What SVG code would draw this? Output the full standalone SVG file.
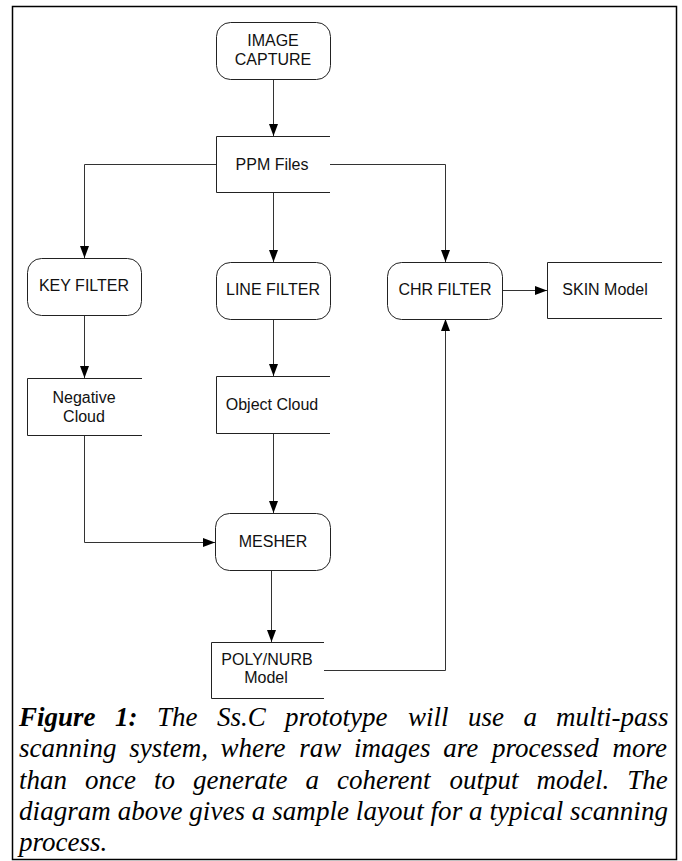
<svg xmlns="http://www.w3.org/2000/svg" width="682" height="861" viewBox="0 0 682 861">
<style>
.box{fill:#fff;stroke:#222;stroke-width:1}
.open{fill:none;stroke:#222;stroke-width:1}
.lbl{font-family:"Liberation Sans",Arial,sans-serif;font-size:16px;fill:#111;text-anchor:middle}
.conn path{fill:none;stroke:#333;stroke-width:1;marker-end:url(#arr)}
.cap{font-family:"Liberation Serif","Times New Roman",serif;font-size:27px;font-style:italic;fill:#000}
.capb{font-weight:bold}
</style>
<defs>
<marker id="arr" markerUnits="userSpaceOnUse" markerWidth="12" markerHeight="9" refX="12" refY="4.5" orient="auto">
<path d="M0,0 L12,4.5 L0,9 z" fill="#000"/>
</marker>
</defs>
<rect x="12.5" y="6.5" width="664" height="853" fill="#fff" stroke="#000" stroke-width="1.5"/>
<g id="connectors" class="conn">
<path d="M273.5,79 V136"/>
<path d="M216,164.5 H84.5 V258"/>
<path d="M273.5,193 V262"/>
<path d="M330,164.5 H445.5 V262"/>
<path d="M84.5,315 V378"/>
<path d="M273.5,319 V376"/>
<path d="M502,290.5 H547"/>
<path d="M84.5,435 V542.5 H215"/>
<path d="M273.5,433 V513"/>
<path d="M271.5,570 V642"/>
<path d="M324,670.5 H445.5 V319"/>
</g>
<g id="image-capture">
<rect class="box" x="216.5" y="22.5" width="114" height="57" rx="14"/>
<text class="lbl" x="273" y="46">IMAGE</text>
<text class="lbl" x="273" y="65">CAPTURE</text>
</g>
<g id="ppm-files">
<path class="open" d="M330,136.5 H216.5 V192.5 H330"/>
<text class="lbl" x="272" y="169.5">PPM Files</text>
</g>
<g id="key-filter">
<rect class="box" x="27.5" y="258.5" width="114" height="57" rx="14"/>
<text class="lbl" x="84" y="291">KEY FILTER</text>
</g>
<g id="line-filter">
<rect class="box" x="216.5" y="262.5" width="114" height="57" rx="14"/>
<text class="lbl" x="273" y="295">LINE FILTER</text>
</g>
<g id="chr-filter">
<rect class="box" x="387.5" y="262.5" width="115" height="57" rx="14"/>
<text class="lbl" x="445" y="295">CHR FILTER</text>
</g>
<g id="skin-model">
<path class="open" d="M662,262.5 H547.5 V318.5 H662"/>
<text class="lbl" x="605" y="295">SKIN Model</text>
</g>
<g id="negative-cloud">
<path class="open" d="M142,378.5 H27.5 V435.5 H142"/>
<text class="lbl" x="84" y="403">Negative</text>
<text class="lbl" x="84" y="422">Cloud</text>
</g>
<g id="object-cloud">
<path class="open" d="M330,376.5 H216.5 V433.5 H330"/>
<text class="lbl" x="272" y="410">Object Cloud</text>
</g>
<g id="mesher">
<rect class="box" x="215.5" y="513.5" width="115" height="57" rx="14"/>
<text class="lbl" x="273" y="547">MESHER</text>
</g>
<g id="poly-nurb-model">
<path class="open" d="M324,642.5 H211.5 V698.5 H324"/>
<text class="lbl" x="267" y="665">POLY/NURB</text>
<text class="lbl" x="266" y="683">Model</text>
</g>
<g id="caption" class="cap">
<text y="726"><tspan class="capb" x="19">Figure</tspan><tspan class="capb" x="115">1:</tspan><tspan x="157">The</tspan><tspan x="217">Ss.C</tspan><tspan x="285">prototype</tspan><tspan x="408">will</tspan><tspan x="468">use</tspan><tspan x="523.5">a</tspan><tspan x="556">multi-pass</tspan></text>
<text y="757"><tspan x="19">scanning</tspan><tspan x="129.2">system,</tspan><tspan x="220.6">where</tspan><tspan x="299.3">raw</tspan><tspan x="354">images</tspan><tspan x="443.2">are</tspan><tspan x="491.9">processed</tspan><tspan x="612.6">more</tspan></text>
<text y="789"><tspan x="19">than</tspan><tspan x="85">once</tspan><tspan x="154">to</tspan><tspan x="193">generate</tspan><tspan x="305.5">a</tspan><tspan x="337">coherent</tspan><tspan x="449.5">output</tspan><tspan x="536.5">model.</tspan><tspan x="627.2">The</tspan></text>
<text x="19" y="820" textLength="649" lengthAdjust="spacing">diagram above gives a sample layout for a typical scanning</text>
<text x="19" y="851">process.</text>
</g>
</svg>
